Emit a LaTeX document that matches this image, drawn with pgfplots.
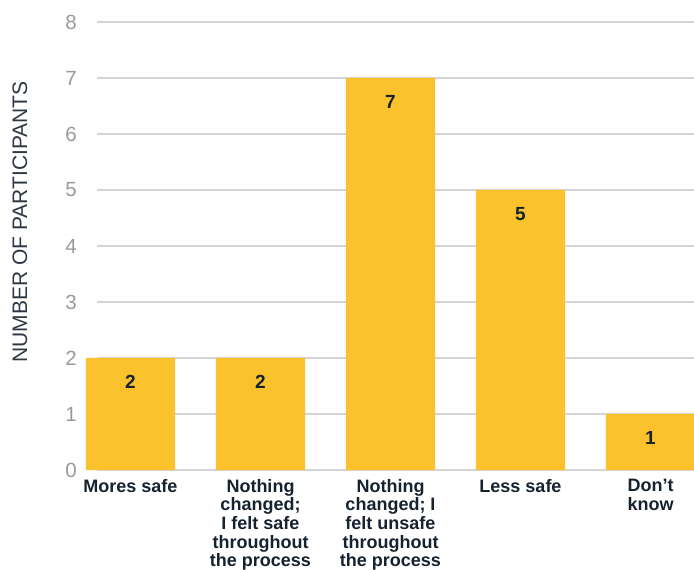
\documentclass[border=0pt]{standalone}
\usepackage{pgfplots}
\pgfplotsset{compat=1.18}
\usepackage{fontspec}
\setmainfont{Liberation Sans}
\definecolor{barc}{HTML}{FBC22D}
\definecolor{navy}{HTML}{16222F}
\definecolor{tickc}{HTML}{9A9A9A}
\definecolor{gridc}{HTML}{D4D4D8}
\definecolor{labc}{HTML}{2E3744}
\begin{document}
\begin{tikzpicture}
\begin{axis}[
  at={(0,0)}, anchor=south west,
  scale only axis,
  width=597pt, height=448pt,
  xmin=-0.2577, xmax=4.3346,
  ymin=0, ymax=8,
  ytick={0,1,...,8},
  xtick={0,1,2,3,4},
  xticklabels={Mores safe,{Nothing\\changed;\\I felt safe\\throughout\\the process},{Nothing\\changed; I\\felt unsafe\\throughout\\the process},Less safe,{Don’t\\know}},
  axis line style={draw=none},
  major tick length=0pt,
  ymajorgrids,
  grid style={gridc, line width=1.2pt},
  /pgf/number format/assume math mode=true,
  yticklabel style={font=\fontsize{20.5}{23}\selectfont, text=tickc, anchor=east, inner sep=0pt, xshift=-20pt},
  xticklabel style={font=\fontsize{18}{18.6}\selectfont\bfseries, text=navy, align=center, anchor=north, inner sep=0pt, yshift=-9pt},
  ylabel={NUMBER OF PARTICIPANTS},
  ylabel style={at={(axis description cs:-0.129,0.5536)}, anchor=center, font=\fontsize{21}{24}\selectfont, text=labc},
  clip=false,
  ybar, bar width=0.685,
  nodes near coords,
  every node near coord/.append style={font=\fontsize{19}{21}\selectfont\bfseries, text=navy, anchor=center, yshift=-24pt},
]
\addplot[fill=barc, draw=none] coordinates {(0,2) (1,2) (2,7) (3,5) (4,1)};
\end{axis}
\pgfresetboundingbox
\path (-97pt,-100pt) rectangle (597pt,470pt);
\end{tikzpicture}
\end{document}
